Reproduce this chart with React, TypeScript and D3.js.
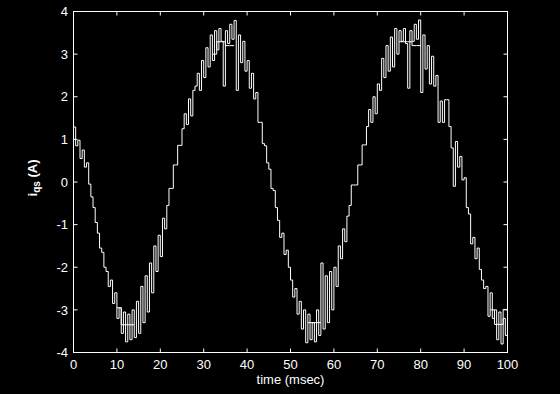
import React from "react";
import * as d3 from "d3";

// time axis step for measured samples (msec)
const measuredTimesStep = 0.5;
const measuredValues: number[] = [
  1.29, 0.85, 0.98, 0.55, 0.75, 0.35, 0.45, -0.05, -0.35, -0.6,
  -0.95, -1.2, -1.55, -1.65, -2.0, -2.1, -2.45, -2.3, -2.85, -2.6,
  -3.2, -2.95, -3.55, -3.05, -3.75, -3.1, -3.7, -3.0, -3.65, -2.8,
  -3.55, -2.45, -3.3, -2.2, -3.05, -1.9, -2.6, -1.5, -2.1, -1.25,
  -1.75, -0.85, -1.1, -0.55, -0.15, -0.15, 0.4, 0.4, 0.86, 0.86,
  1.25, 1.6, 1.35, 1.95, 1.55, 2.15, 2.25, 2.55, 2.15, 2.85,
  2.45, 3.15, 2.7, 3.45, 2.85, 3.55, 3.1, 3.6, 3.3, 2.25,
  3.55, 3.25, 3.7, 3.35, 3.79, 2.15, 3.45, 2.8, 3.3, 2.6,
  2.85, 2.2, 2.55, 1.95, 2.1, 1.4, 1.4, 0.9, 0.85, 0.45,
  0.3, -0.15, -0.2, -0.6, -0.9, -1.3, -1.2, -1.7, -1.6, -2.0,
  -2.3, -2.7, -2.5, -3.1, -2.8, -3.45, -3.0, -3.77, -3.1, -3.7,
  -3.3, -3.75, -3.0, -3.6, -1.9, -3.45, -2.2, -3.3, -2.1, -3.0,
  -2.0, -2.45, -1.5, -1.8, -1.1, -1.4, -0.8, -0.55, -0.07, -0.07,
  -0.07, 0.4, 0.4, 0.87, 0.87, 1.3, 1.7, 1.4, 2.0, 1.6,
  2.3, 2.15, 2.9, 2.45, 3.2, 2.6, 3.4, 2.7, 3.6, 3.0,
  3.55, 3.3, 3.6, 3.25, 2.2, 3.55, 3.3, 3.7, 3.35, 3.8,
  2.1, 3.45, 2.65, 3.2, 2.3, 2.95, 2.25, 2.5, 1.4, 1.9,
  1.4, 1.93, 1.93, 1.3, 0.8, -0.1, 0.95, 0.35, 0.6, 0.05,
  0.1, -0.6, -0.75, -1.45, -1.3, -1.8, -1.55, -2.05, -2.3, -2.5,
  -2.45, -3.15, -2.6, -3.2, -3.0, -3.7, -3.05, -3.8, -3.2, -3.6,
  -3.0,
];

// reference (commanded) staircase, only visible near peaks and troughs; null = not drawn
const refTimesStep = 1;
const refValues: (number | null)[] = [
  null, null, null, null, null, null, null, null, null, null,
  -2.95, -3.35, -3.35, -3.35, -3.35, null, null, null, null, null,
  null, null, null, null, null, null, null, null, null, null,
  null, null, 3.0, 3.29, 3.29, 3.2, 3.2, 3.2, null, null,
  null, null, null, null, null, null, null, null, null, null,
  null, null, null, null, -3.3, -3.3, -3.3, -3.3, null, null,
  null, null, null, null, null, null, null, null, null, null,
  null, null, null, null, null, 3.29, 3.29, 3.29, 3.2, 3.2,
  3.2, null, null, null, null, null, null, null, null, null,
  null, null, null, null, null, null, -3.0, -3.34, -3.34, -2.99,
  -2.99,
];

const xTicks = [0, 10, 20, 30, 40, 50, 60, 70, 80, 90, 100];
const yTicks = [-4, -3, -2, -1, 0, 1, 2, 3, 4];
const xLabel = "time (msec)";

export default function App() {
  const W = 560, H = 394;
  const x = d3.scaleLinear().domain([0, 100]).range([73.5, 507.5]);
  const y = d3.scaleLinear().domain([-4, 4]).range([352.5, 11.5]);
  const tickLen = 4;

  const measured = measuredValues.map((v, i) => [i * measuredTimesStep, v] as [number, number | null]);
  const ref = refValues.map((v, i) => [i * refTimesStep, v] as [number, number | null]);

  const lineStep = d3
    .line<[number, number | null]>()
    .defined((d) => d[1] !== null)
    .x((d) => x(d[0]))
    .y((d) => y(d[1] as number))
    .curve(d3.curveStepAfter);

  const font = "'Liberation Sans', Arial, Helvetica, sans-serif";
  const [x0, x1] = x.range();
  const [y0, y1] = y.range();

  return (
    <svg
      width={W}
      height={H}
      style={{ position: "absolute", left: 0, top: 0, background: "#000" }}
    >
      <rect x={0} y={0} width={W} height={H} fill="#000" />
      <path d={lineStep(ref) || ""} fill="none" stroke="#fff" strokeWidth={1} />
      <path d={lineStep(measured) || ""} fill="none" stroke="#fff" strokeWidth={1} />
      {/* box */}
      <rect x={x0} y={y1} width={x1 - x0} height={y0 - y1} fill="none" stroke="#fff" strokeWidth={1} />
      {xTicks.map((t) => (
        <g key={"xt" + t}>
          <line x1={x(t)} x2={x(t)} y1={y0} y2={y0 - tickLen} stroke="#fff" />
          <line x1={x(t)} x2={x(t)} y1={y1} y2={y1 + tickLen} stroke="#fff" />
          <text
            x={x(t)}
            y={369}
            fill="#fff"
            fontFamily={font}
            fontSize={13}
            textAnchor="middle"
          >
            {t}
          </text>
        </g>
      ))}
      {yTicks.map((t) => (
        <g key={"yt" + t}>
          <line x1={x0} x2={x0 + tickLen} y1={y(t)} y2={y(t)} stroke="#fff" />
          <line x1={x1} x2={x1 - tickLen} y1={y(t)} y2={y(t)} stroke="#fff" />
          <text
            x={68}
            y={y(t)}
            dy="0.36em"
            fill="#fff"
            fontFamily={font}
            fontSize={13}
            textAnchor="end"
          >
            {t}
          </text>
        </g>
      ))}
      <text
        x={(x0 + x1) / 2}
        y={384}
        fill="#fff"
        fontFamily={font}
        fontSize={13}
        textAnchor="middle"
      >
        {xLabel}
      </text>
      <text
        transform={`translate(37,178) rotate(-90)`}
        fill="#fff"
        fontFamily={font}
        fontSize={13}
        fontWeight="bold"
        textAnchor="middle"
      >
        i
        <tspan fontSize={10} dy={3}>qs</tspan>
        <tspan dy={-3}> (A)</tspan>
      </text>
    </svg>
  );
}
